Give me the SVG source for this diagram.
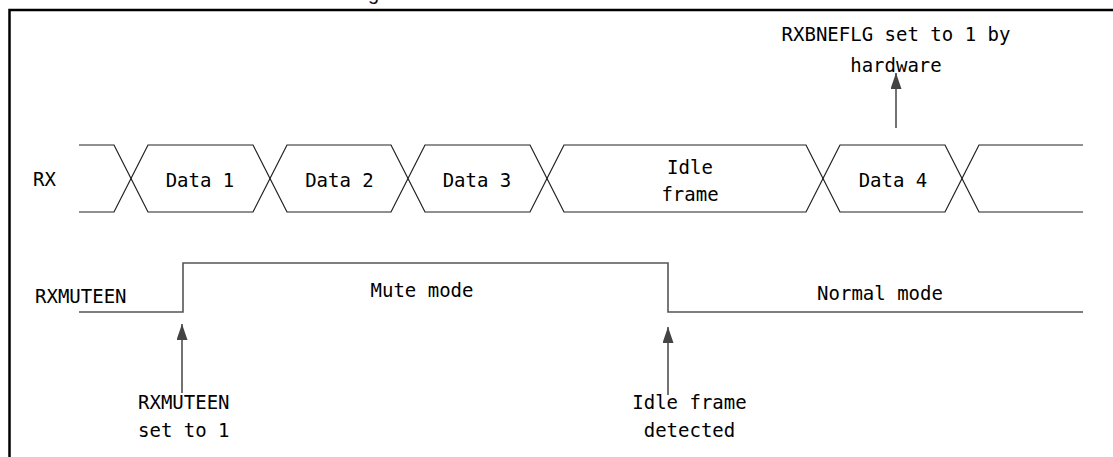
<svg xmlns="http://www.w3.org/2000/svg" width="1113" height="457" viewBox="0 0 1113 457">
<style>
  .t{font-family:"DejaVu Sans Mono","Liberation Mono",monospace;font-size:19px;fill:#000}
  .c{text-anchor:middle}
  .sig{fill:none;stroke:#222;stroke-width:1.2}
  .mute{fill:none;stroke:#555;stroke-width:1.6}
  .arr{stroke:#444;stroke-width:1.5;fill:none}
</style>
<defs>
  <marker id="ah" markerUnits="userSpaceOnUse" markerWidth="17" markerHeight="12" refX="16" refY="5.5" orient="auto">
    <path d="M0,0 L16,5.5 L0,11 z" fill="#444"/>
  </marker>
</defs>
<path id="frame" d="M9.5,460 V10 H1120" fill="none" stroke="#000" stroke-width="2.5"/>
<text x="368" y="0" font-family="Liberation Sans, sans-serif" font-size="20" fill="#111">g</text>

<g id="rx-label"><text class="t" x="33" y="186">RX</text></g>
<g id="rx-start"><path class="sig" d="M79,145 H114 L131,178.5 L114,212 H79"/></g>
<g id="data1"><polygon class="sig" points="131,178.5 148,145 253,145 270,178.5 253,212 148,212"/><text class="t c" x="200" y="187">Data 1</text></g>
<g id="data2"><polygon class="sig" points="270,178.5 287,145 391,145 408,178.5 391,212 287,212"/><text class="t c" x="339.5" y="187">Data 2</text></g>
<g id="data3"><polygon class="sig" points="408,178.5 425,145 530,145 547,178.5 530,212 425,212"/><text class="t c" x="477" y="187">Data 3</text></g>
<g id="idle"><polygon class="sig" points="547,178.5 564,145 806,145 823,178.5 806,212 564,212"/><text class="t c" x="690" y="174">Idle</text><text class="t c" x="690" y="201">frame</text></g>
<g id="data4"><polygon class="sig" points="823,178.5 840,145 945,145 962,178.5 945,212 840,212"/><text class="t c" x="893" y="187">Data 4</text></g>
<g id="rx-end"><path class="sig" d="M1083,145 H979 L962,178.5 L979,212 H1083"/></g>

<g id="rxmuteen-label"><text class="t" x="35" y="303">RXMUTEEN</text></g>
<g id="rxmuteen-signal"><polyline class="mute" points="79,312 183,312 183,263 668,263 668,312 1083,312"/></g>
<g id="mute-mode"><text class="t c" x="422" y="297">Mute mode</text></g>
<g id="normal-mode"><text class="t c" x="880" y="300">Normal mode</text></g>

<g id="note-rxbneflg"><text class="t c" x="896" y="41">RXBNEFLG set to 1 by</text><text class="t c" x="896" y="72">hardware</text></g>
<g id="note-set"><text class="t" x="138" y="409">RXMUTEEN</text><text class="t" x="138" y="437">set to 1</text></g>
<g id="note-idle"><text class="t c" x="689.5" y="409">Idle frame</text><text class="t c" x="689.5" y="437">detected</text></g>

<g id="connectors">
  <line class="arr" x1="896" y1="128" x2="896" y2="73" marker-end="url(#ah)"/>
  <line class="arr" x1="182" y1="393" x2="182" y2="324" marker-end="url(#ah)"/>
  <line class="arr" x1="668" y1="395" x2="668" y2="327" marker-end="url(#ah)"/>
</g>
</svg>
